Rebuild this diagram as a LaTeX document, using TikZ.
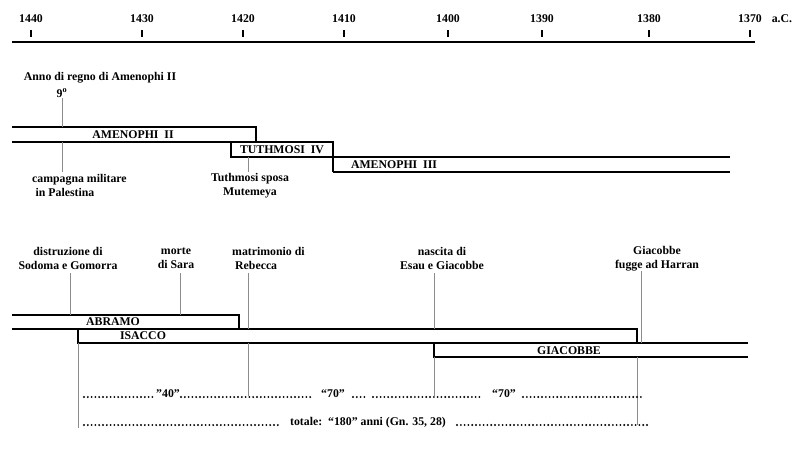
\documentclass[tikz,border=0pt]{standalone}
\usepackage{fontspec}
\setmainfont{Liberation Serif}
\begin{document}
\begin{tikzpicture}[x=1pt,y=-1pt,
  every node/.style={inner sep=0pt,font=\bfseries\fontsize{11.8}{14}\selectfont},
  axisline/.style={line width=1.4pt},
  tickmark/.style={line width=1.5pt},
  boxline/.style={line width=1.3pt},
  leader/.style={line width=0.7pt,draw=black!45},
  dotrow/.style={line width=2.1pt,line cap=round,dash pattern=on 0pt off 3.8pt},
  lbl/.style={align=center}]
\useasboundingbox (0,0) rectangle (803,471);
% axis
\coordinate (axL) at (12,42);
\coordinate (axR) at (755,42);
\draw[axisline] (axL) -- (axR);
\foreach \x/\l in {31/1440,142/1430,243/1420,344/1410,448/1400,542/1390,649/1380,750/1370}{
  \draw[tickmark] (\x,30) -- (\x,37);
  \node (y\l) at (\x,19) {\l};
}
\node (ac) at (782,19) {a.C.};
% upper block: Egyptian kings
\draw[boxline] (12,127) -- (256,127) -- (256,142);
\draw[boxline] (12,142) -- (333,142) -- (333,172);
\draw[boxline] (231,142) -- (231,157) -- (730,157);
\draw[boxline] (333,172) -- (730,172);
\node (am2) at (133,135) {AMENOPHI\ \ II};
\node (tu4) at (282,149.5) {TUTHMOSI\ \ IV};
\node (am3) at (394,164.5) {AMENOPHI\ \ III};
\node (anno) at (100,78) {Anno di regno di Amenophi II};
\node (nove) at (62,93) {9\textsuperscript{o}};
\node[align=left,anchor=west] (camp) at (32,185.5) {campagna militare\\\hspace{3.5pt}in Palestina};
\node[lbl] (tuth) at (250,185.5) {Tuthmosi sposa\\Mutemeya};
\draw[leader] (nove.south |- 0,98) -- (62,127);
\draw[leader] (62,142) -- (62,172);
\draw[leader] (248,157) -- (248,172);
% lower block: patriarchs
\draw[boxline] (12,315) -- (239,315) -- (239,329);
\draw[boxline] (12,329) -- (637,329) -- (637,343);
\draw[boxline] (78,329) -- (78,343) -- (748,343);
\draw[boxline] (434,343) -- (434,357) -- (748,357);
\node (abr) at (113,322) {ABRAMO};
\node (isa) at (143,336) {ISACCO};
\node (gia) at (569,350.5) {GIACOBBE};
\node[lbl] (sod) at (68,258.5) {distruzione di\\Sodoma e Gomorra};
\node[lbl] (sara) at (176,258.5) {morte\\di Sara};
\node[align=left,anchor=west] (reb) at (232,258.5) {matrimonio di\\\hspace{3pt}Rebecca};
\node[lbl] (esau) at (442,258.5) {nascita di\\Esau e Giacobbe};
\node[lbl] (harr) at (657,258.5) {Giacobbe\\fugge ad Harran};
\draw[leader] (70,273) -- (70,315);
\draw[leader] (180,273) -- (180,315);
\draw[leader] (248,273) -- (248,329);
\draw[leader] (434,273) -- (434,329);
\draw[leader] (641,271) -- (641,343);
\draw[leader] (78,343) -- (78,428);
\draw[leader] (248,343) -- (248,396);
\draw[leader] (434,357) -- (434,396);
\draw[leader] (637,357) -- (637,425);
% dotted rows
\draw[dotrow] (84,397) -- (156,397);
\draw[dotrow] (181,397) -- (311,397);
\draw[dotrow] (353,397) -- (366,397);
\draw[dotrow] (373,397) -- (482,397);
\draw[dotrow] (523,397) -- (642,397);
\draw[dotrow] (84,425) -- (278,425);
\draw[dotrow] (457,425) -- (647,425);
\node (q40) at (168,394) {”40”};
\node (q70a) at (333,394) {“70”};
\node (q70b) at (504,394) {“70”};
\node (tot) at (368,423) {totale:\ \ “180” anni (Gn. 35, 28)};
\end{tikzpicture}
\end{document}
